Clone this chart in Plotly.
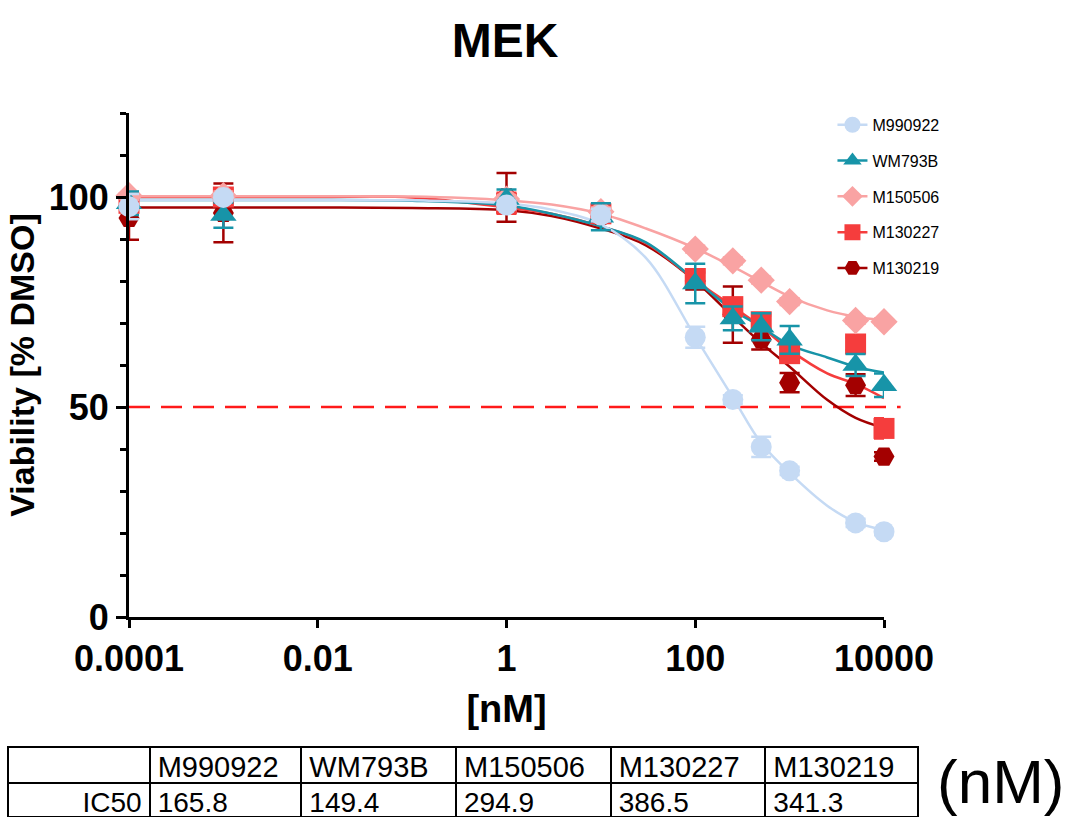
import plotly.graph_objects as go

FONT = "Liberation Sans, Arial, sans-serif"

# ---- data ----
series = ["M990922", "WM793B", "M150506", "M130227", "M130219"]
colors = {"M990922": "#c5daf4", "WM793B": "#1794a8", "M150506": "#f9a3a3",
          "M130227": "#f53d3d", "M130219": "#a30000"}
symbols = {"M990922": "circle", "WM793B": "triangle-up", "M150506": "diamond",
           "M130227": "square", "M130219": "hexagon2"}

dose = [0.0001, 0.001, 1, 10, 100, 250, 500, 1000, 5000, 10000]
viab = {
    "M990922": [97.7, 99.9, 98.1, 95.7, 66.6, 51.8, 40.5, 34.8, 22.4, 20.3],
    "WM793B":  [98.5, 95.7, 99.5, 95.3, 79.4, 71.1, 69.1, 66.0, 60.0, 55.2],
    "M150506": [100.3, 100.3, 99.5, 96.5, 87.6, 84.8, 80.2, 75.1, 70.6, 70.3],
    "M130227": [98.5, 100.0, 98.5, 96.0, 80.6, 73.9, 70.3, 62.7, 65.0, 44.9],
    "M130219": [95.0, 96.2, 99.9, 95.5, 80.0, 72.0, 66.1, 55.8, 55.2, 38.2],
}
sem = {
    "M990922": [3.0, 0.8, 1.0, 1.5, 2.5, 1.0, 2.4, 1.0, 1.0, 0.8],
    "WM793B":  [2.8, 3.0, 2.3, 3.2, 4.7, 2.8, 3.2, 3.3, 2.6, 2.8],
    "M150506": [1.0, 1.0, 1.0, 1.0, 0.8, 0.8, 0.8, 0.8, 0.8, 0.8],
    "M130227": [1.5, 1.5, 2.5, 1.5, 2.0, 1.5, 1.5, 1.5, 1.5, 2.4],
    "M130219": [5.2, 7.0, 5.8, 1.5, 2.0, 6.7, 2.4, 2.3, 2.6, 1.0],
}

# fitted curves
curve_x = [0.0001, 0.001, 0.01, 0.1, 1, 3, 10, 30, 100, 250, 500, 1000, 2500, 5000, 10000]
curve_y = {
    "M990922": [99.3, 99.3, 99.3, 99.2, 98.5, 97.0, 93.5, 85.5, 66.7, 52.3, 41.4, 34.3, 26.5, 22.6, 20.7],
    "WM793B":  [99.3, 99.3, 99.3, 99.1, 98.0, 96.0, 93.0, 89.2, 80.2, 73.1, 69.1, 64.8, 61.8, 59.6, 58.2],
    "M150506": [100.2, 100.2, 100.2, 100.1, 99.2, 98.2, 96.0, 92.5, 87.8, 83.4, 79.8, 76.3, 73.0, 71.5, 70.7],
    "M130227": [100.0, 100.0, 100.0, 99.9, 97.5, 96.0, 93.0, 89.0, 80.2, 73.9, 69.1, 63.6, 58.0, 55.5, 52.1],
    "M130219": [97.5, 97.5, 97.5, 97.4, 96.9, 95.5, 92.5, 88.5, 80.0, 71.5, 65.2, 59.6, 51.7, 47.4, 45.0],
}

x_tickvals = [0.0001, 0.01, 1, 100, 10000]
x_ticktext = ["0.0001", "0.01", "1", "100", "10000"]
y_tickvals = [0, 50, 100]
y_ticktext = ["0", "50", "100"]
threshold = 50

table_header = ["", "M990922", "WM793B", "M150506", "M130227", "M130219"]
table_row = ["IC50", "165.8", "149.4", "294.9", "386.5", "341.3"]

draw_order = ["M130219", "M130227", "M150506", "WM793B", "M990922"]

fig = go.Figure()

for s in draw_order:
    fig.add_trace(go.Scatter(
        x=curve_x, y=curve_y[s], mode="lines",
        line=dict(color=colors[s], width=2.5, shape="spline", smoothing=1.0),
        showlegend=False, hoverinfo="skip", cliponaxis=False))

for s in draw_order:
    fig.add_trace(go.Scatter(
        x=dose, y=viab[s], mode="markers", name=s,
        marker=dict(symbol=symbols[s], size=21 if s != "WM793B" else 23,
                    color=colors[s], line=dict(width=0)),
        error_y=dict(type="data", array=sem[s], color=colors[s],
                     thickness=2.5, width=10),
        showlegend=False, cliponaxis=False))

for s in series:
    fig.add_trace(go.Scatter(
        x=[None], y=[None], mode="lines+markers", name=s, legendgroup=s,
        marker=dict(symbol=symbols[s], size=18, color=colors[s]),
        line=dict(color=colors[s], width=2.5)))

fig.add_trace(go.Table(
    domain=dict(x=[8 / 1070, 918 / 1070], y=[0, 70 / 817]),
    columnwidth=[142, 152, 155, 155, 155, 153],
    header=dict(values=table_header, height=36,
                align="left", line=dict(color="black", width=2),
                fill=dict(color="white"),
                font=dict(family=FONT, size=29, color="black")),
    cells=dict(values=[[v] for v in table_row], height=34,
               align=["right", "left", "left", "left", "left", "left"],
               line=dict(color="black", width=2),
               fill=dict(color="white"),
               font=dict(family=FONT, size=28, color="black")),
))

fig.add_shape(type="line", xref="x domain", yref="y", x0=0, x1=1.022,
              y0=threshold, y1=threshold, layer="below",
              line=dict(color="#ff1a1a", width=2.5, dash="21px,11px"))

fig.add_annotation(text="(nM)", xref="paper", yref="paper", x=0.935, y=0.043,
                   xanchor="center", yanchor="middle", showarrow=False,
                   font=dict(family=FONT, size=62, color="black"))

axis_common = dict(showgrid=False, zeroline=False, showline=True, linewidth=3,
                   linecolor="black", ticks="outside", tickwidth=2.5,
                   tickcolor="black", automargin=False,
                   tickfont=dict(family=FONT, size=36, color="black", weight="bold"))

fig.update_layout(
    width=1070, height=817,
    margin=dict(l=0, r=0, t=0, b=0),
    paper_bgcolor="white", plot_bgcolor="white",
    font=dict(family=FONT, color="black"),
    title=dict(text="MEK", x=0.472, xanchor="center", y=0.951, yanchor="middle",
               yref="container",
               font=dict(family=FONT, size=48, color="black", weight="bold")),
    xaxis=dict(type="log", range=[-4, 4], domain=[129 / 1070, 884 / 1070],
               tickmode="array", tickvals=x_tickvals, ticktext=x_ticktext,
               ticklen=8,
               title=dict(text="[nM]", standoff=18,
                          font=dict(family=FONT, size=38, color="black", weight="bold")),
               **axis_common),
    yaxis=dict(range=[0, 120], domain=[200 / 817, 704 / 817],
               tickmode="array", tickvals=y_tickvals, ticktext=y_ticktext,
               ticklen=10,
               minor=dict(tickmode="linear", tick0=0, dtick=10, ticks="outside",
                          ticklen=6, tickwidth=2.5, tickcolor="black"),
               title=dict(text="Viability [% DMSO]", standoff=4,
                          font=dict(family=FONT, size=34, color="black", weight="bold")),
               **axis_common),
    legend=dict(x=0.778, y=0.868, xanchor="left", yanchor="top",
                font=dict(family=FONT, size=16, color="black"),
                tracegroupgap=12, bgcolor="rgba(0,0,0,0)"),
)

fig.write_html("out.html", config={"displayModeBar": False},
               post_script="document.body.style.margin='0px';")
